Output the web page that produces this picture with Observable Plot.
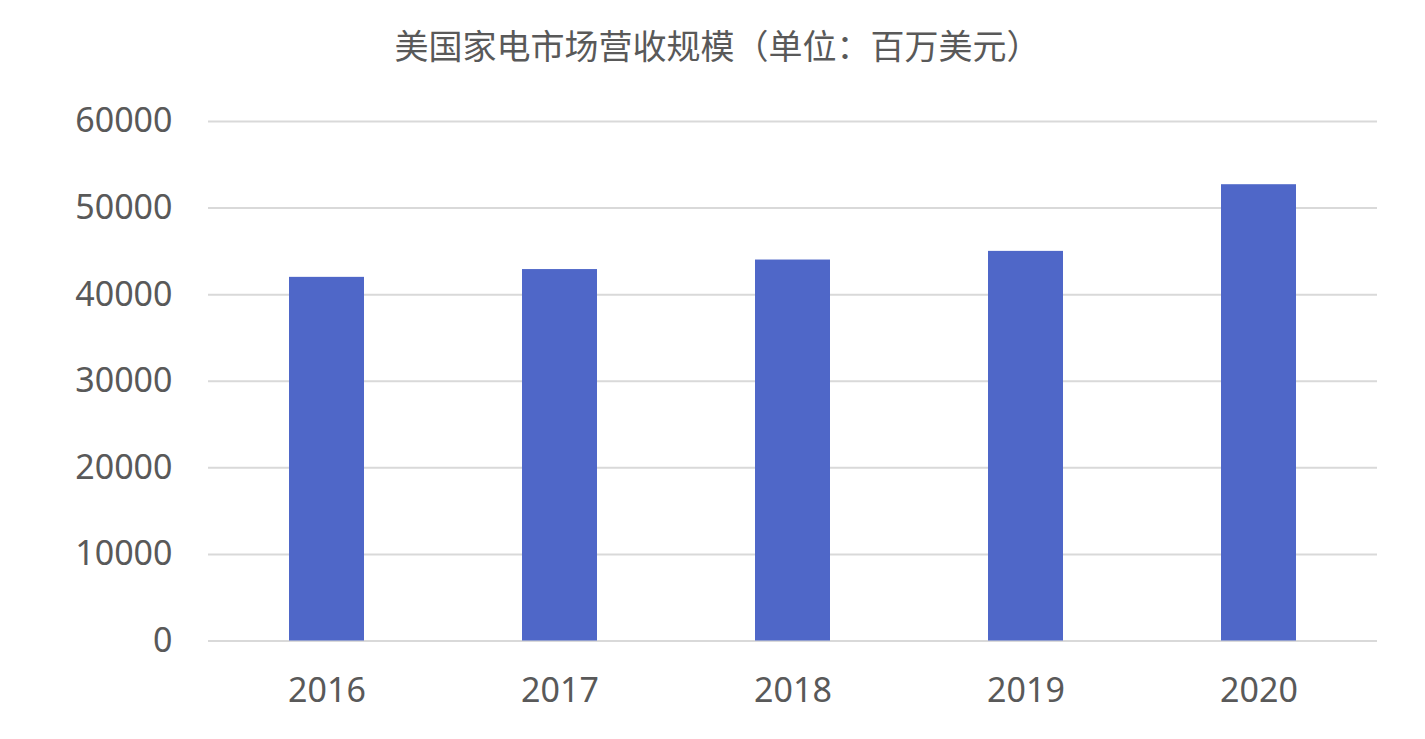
<!DOCTYPE html>
<html><head><meta charset="utf-8">
<script src="https://cdn.jsdelivr.net/npm/d3@7"></script>
<script src="https://cdn.jsdelivr.net/npm/@observablehq/plot@0.6"></script>
<style>
body{margin:0;background:#fff;font-family:"Noto Sans CJK SC","Noto Sans",sans-serif;}
#title{height:85px;line-height:90px;text-align:center;font-size:34px;color:#595959;padding-left:10px;}
</style></head><body>
<div id="title">美国家电市场营收规模（单位：百万美元）</div>
<div id="chart"></div>
<script>
const years = ["2016","2017","2018","2019","2020"];
const revenue = [42000, 42900, 44000, 45000, 52700];
const yTicks = [0,10000,20000,30000,40000,50000,60000];
const data = years.map((y,i)=>({year:y, value:revenue[i]}));
const chart = Plot.plot({
  width:1425, height:654,
  marginTop:36, marginBottom:98.5, marginLeft:208, marginRight:48,
  style:{fontFamily:'"Noto Sans","Noto Sans CJK SC",sans-serif', fontSize:"34px", color:"#595959", background:"#fff"},
  x:{domain:years, paddingInner:0.68, paddingOuter:0.34, label:null, tickSize:0, tickPadding:37},
  y:{domain:[0,60000], ticks:yTicks, label:null, tickSize:0, tickPadding:36, tickFormat:d=>String(d)},
  marks:[
    Plot.ruleY(yTicks, {stroke:"#d9d9d9", strokeWidth:2}),
    Plot.barY(data, {x:"year", y:"value", fill:"#4f67c8"})
  ]
});
document.getElementById("chart").appendChild(chart);
</script></body></html>
